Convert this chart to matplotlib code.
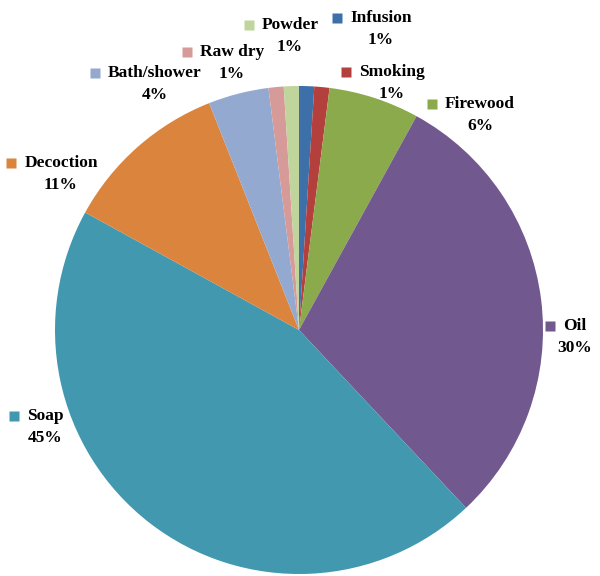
import matplotlib
matplotlib.use('Agg')
import matplotlib.pyplot as plt

# data
uses = ['Infusion', 'Smoking', 'Firewood', 'Oil', 'Soap', 'Decoction',
        'Bath/shower', 'Raw dry', 'Powder']
shares = [1, 1, 6, 30, 45, 11, 4, 1, 1]
colors = ['#3D6FA9', '#B3403D', '#8BAA4C', '#71588F', '#4198AF', '#DB843D',
          '#93A9CF', '#D69A99', '#BFD59C']

# label layout: centre of the name line, in pixels from top-left
label_pos = [(381, 18), (392, 72), (480, 104), (575, 326), (45, 416),
             (61, 163), (155, 73), (232, 52), (290, 25)]

W, H = 600, 576
fig = plt.figure(figsize=(W / 100, H / 100), dpi=100)
ax = fig.add_axes([0, 0, 1, 1])

ax.pie(shares, colors=colors, startangle=90, counterclock=False,
       center=(299, H - 330), radius=244, frame=True,
       wedgeprops=dict(linewidth=0))
ax.set_xlim(0, W)
ax.set_ylim(0, H)
ax.set_aspect('equal')
ax.axis('off')

total = float(sum(shares))
font = dict(family='Liberation Serif', weight='bold', size=12.5)
names = []
for name, v, (x, y) in zip(uses, shares, label_pos):
    t = ax.text(x, H - y, name, ha='center', va='center', **font)
    ax.text(x, H - y - 22, '%.0f%%' % (v / total * 100), ha='center',
            va='center', **font)
    names.append(t)

fig.canvas.draw()
r = fig.canvas.get_renderer()
inv = ax.transData.inverted()
for t, c, (x, y) in zip(names, colors, label_pos):
    bb = t.get_window_extent(r)
    x0, _ = inv.transform((bb.x0, bb.y0))
    ax.plot(x0 - 13, H - y, marker='s', ms=7.5, color=c, mec='none')

fig.savefig('out.png', dpi=100)
